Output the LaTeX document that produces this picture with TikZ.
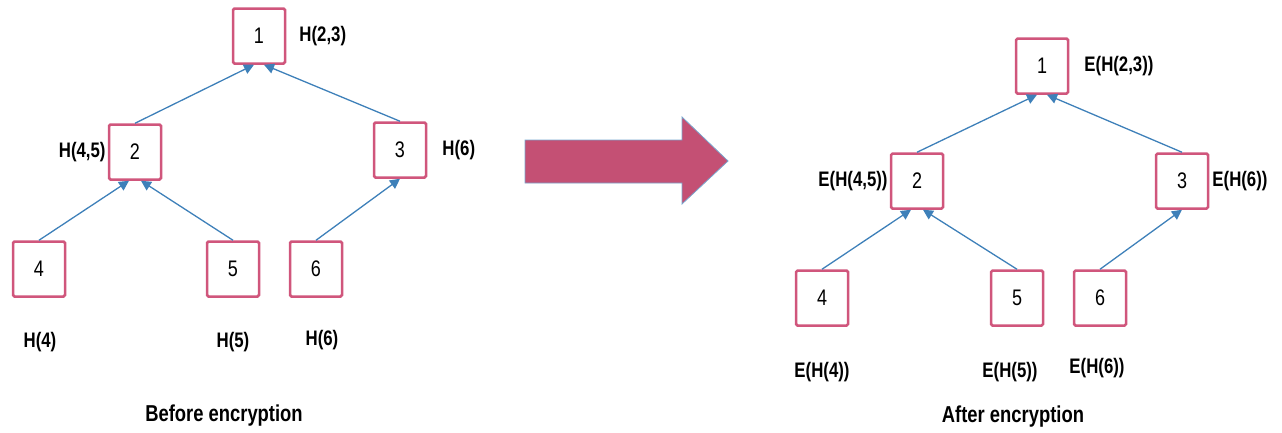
\documentclass[tikz,border=0pt]{standalone}
\usepackage{fontspec}
\setmainfont{Liberation Sans}[FakeStretch=0.8]
\usetikzlibrary{arrows.meta,positioning}
\definecolor{boxpink}{RGB}{208,86,124}
\definecolor{linkblue}{RGB}{62,128,185}
\definecolor{bigarrow}{RGB}{196,80,116}

\begin{document}
\begin{tikzpicture}[x=1pt,y=-1pt,
	box/.style={draw=boxpink,line width=2.5pt,rounded corners=1.5pt,fill=white,
		minimum width=52pt,minimum height=55pt,inner sep=0pt,font=\fontsize{22.5}{24}\selectfont},
	lbl/.style={inner sep=0pt,font=\fontsize{21}{23}\selectfont\bfseries},
	caption/.style={inner sep=0pt,font=\fontsize{23}{25}\selectfont\bfseries},
	link/.style={draw=linkblue,line width=1.3pt,-{Triangle[length=10pt,width=10pt]}}]
		%%%%% START %%%%%
		\useasboundingbox (0,0) rectangle (1282,432);
		
		% before encryption
		\node[box] (b1) at (259,36) {1};
		\node[box] (b2) at (135,152) {2};
		\node[box] (b3) at (400,150) {3};
		\node[box] (b4) at (39,269) {4};
		\node[box] (b5) at (233,269) {5};
		\node[box] (b6) at (316,269) {6};
		
		\draw[link] (b2.north) -- ([xshift=-5pt]b1.south);
		\draw[link] (b3.north) -- ([xshift=5pt]b1.south);
		\draw[link] (b4.north) -- ([xshift=-6pt]b2.south);
		\draw[link] (b5.north) -- ([xshift=6pt]b2.south);
		\draw[link] (b6.north) -- (b3.south);
		
		\node[lbl, right=13pt of b1] (hb1) {H(2,3)};
		\node[lbl, left=2pt of b2] (hb2) {H(4,5)};
		\node[lbl, right=15pt of b3] (hb3) {H(6)};
		\node[lbl] (hb4) at (40,342) {H(4)};
		\node[lbl] (hb5) at (233,342) {H(5)};
		\node[lbl] (hb6) at (322,340) {H(6)};
		\node[caption] (cb) at (224,416) {Before encryption};
		
		% big arrow
		\draw[fill=bigarrow, draw=linkblue!70, line width=0.8pt] (525,140) -- (682,140) -- (682,117) -- (728,161)
			-- (682,204) -- (682,183) -- (525,183) -- cycle;
		
		% after encryption
		\node[box] (e1) at (1042,66) {1};
		\node[box] (e2) at (917,181) {2};
		\node[box] (e3) at (1182,181) {3};
		\node[box] (e4) at (822,298) {4};
		\node[box] (e5) at (1017,298) {5};
		\node[box] (e6) at (1100,298) {6};
		
		\draw[link] (e2.north) -- ([xshift=-5pt]e1.south);
		\draw[link] (e3.north) -- ([xshift=5pt]e1.south);
		\draw[link] (e4.north) -- ([xshift=-6pt]e2.south);
		\draw[link] (e5.north) -- ([xshift=6pt]e2.south);
		\draw[link] (e6.north) -- (e3.south);
		
		\node[lbl, right=15pt of e1] (he1) {E(H(2,3))};
		\node[lbl, left=2pt of e2] (he2) {E(H(4,5))};
		\node[lbl, right=3pt of e3] (he3) {E(H(6))};
		\node[lbl] (he4) at (822,372) {E(H(4))};
		\node[lbl] (he5) at (1010,372) {E(H(5))};
		\node[lbl] (he6) at (1097,368) {E(H(6))};
		\node[caption] (ce) at (1013,417) {After encryption};
		%%%%% END %%%%%
\end{tikzpicture}
\end{document}
